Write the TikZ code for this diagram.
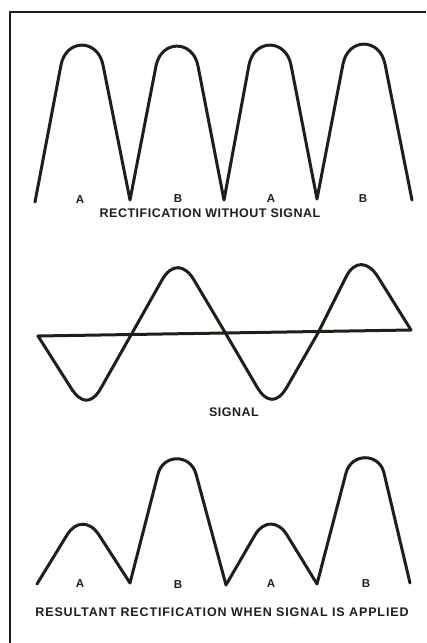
\documentclass[tikz,border=0pt]{standalone}
\usepackage{fontspec}
\setmainfont{Liberation Sans}
\usetikzlibrary{calc}
\definecolor{ink}{RGB}{30,32,24}
\tikzset{
  % #1 centre x; #2 extreme y; #3 half width; #4 height of rounded part; #5 control length
  hump/.style n args={5}{to path={-- ({#1-#3},{#2+(#4)}) .. controls ($({#1-#3},{#2+(#4)})!-#5pt!(\tikztostart)$) and ($({#1+#3},{#2+(#4)})!-#5pt!(\tikztotarget)$) .. ({#1+#3},{#2+(#4)}) -- (\tikztotarget)}},
  wave/.style={draw=ink, line width=3pt, line join=round, line cap=round},
  frame/.style={draw=ink, line width=2.6pt},
  lab/.style={text=ink, inner sep=0pt, font=\bfseries\fontsize{11.5}{13}\selectfont},
  caption/.style={text=ink, inner sep=0pt, font=\bfseries\fontsize{12.5}{14}\selectfont\addfontfeature{LetterSpace=4}},
  widecaption/.style={caption, font=\bfseries\fontsize{12.5}{14}\selectfont\addfontfeature{LetterSpace=7}},
}
\begin{document}
\begin{tikzpicture}[x=1pt,y=-1pt]
\useasboundingbox (0,0) rectangle (426,643);
\fill[white] (0,0) rectangle (426,643);
% frame
\draw[frame] (426,12) -- (10,12) -- (10,643);
% rectification without signal
\draw[wave] (35,202)
  to[hump={82}{45}{21}{20}{27}] (130,200)
  to[hump={177}{46}{21}{20}{27}] (224,200)
  to[hump={270}{45}{21}{20}{27}] (317,199)
  to[hump={364}{44}{21}{20}{27}] (412,200);
\node[lab] (a1) at (80,200) {A};
\node[lab] (b1) at (178,199) {B};
\node[lab] (a2) at (271,199) {A};
\node[lab] (b2) at (363,199) {B};
\node[caption] (t1) at (210,213) {RECTIFICATION WITHOUT SIGNAL};
% signal
\draw[wave] (38,336)
  to[hump={86}{400}{15}{-12}{19}] (131,335)
  to[hump={178}{268}{16}{12}{19}] (226,334)
  to[hump={272}{399}{15}{-12}{19}] (318,333)
  to[hump={362}{265}{16}{12}{19}] (411,330)
  -- cycle;
\node[caption] (t2) at (234,412) {SIGNAL};
% resultant rectification
\draw[wave] (37,584)
  to[hump={83}{524}{16}{11}{17}] (130,583)
  to[hump={177}{459}{19}{15}{21}] (226,585)
  to[hump={271}{524}{16}{11}{17}] (317,584)
  to[hump={365}{458}{19}{15}{21}] (410,583);
\node[lab] (a3) at (80,584) {A};
\node[lab] (b3) at (178,585) {B};
\node[lab] (a4) at (271,584) {A};
\node[lab] (b4) at (366,584) {B};
\node[widecaption] (t3) at (222,612) {RESULTANT RECTIFICATION WHEN SIGNAL IS APPLIED};
\end{tikzpicture}
\end{document}
